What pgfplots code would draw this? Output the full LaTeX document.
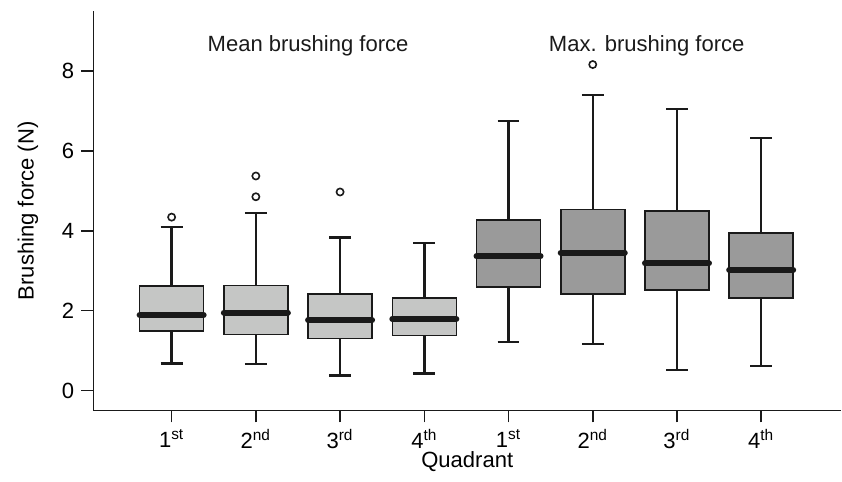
\documentclass[border=0pt]{standalone}
\usepackage{fontspec}
\setmainfont{Liberation Sans}
\usepackage{pgfplots}
\pgfplotsset{compat=1.18}
\usepgfplotslibrary{statistics}
\definecolor{meangray}{RGB}{197,198,197}
\definecolor{maxgray}{RGB}{154,154,154}
\definecolor{ink}{RGB}{26,26,26}

\pgfplotsset{
  bx/.style={draw=ink, line width=0.8pt, mark=o, mark size=1.8pt,
    mark options={line width=0.8pt, draw=ink, fill=none}},
  meanbox/.style={bx, fill=meangray},
  maxbox/.style={bx, fill=maxgray},
}

\begin{document}
\begin{tikzpicture}[font=\fontsize{11}{13}\selectfont]
\begin{axis}[
  name=ax,
  scale only axis, width=373.5pt, height=199.5pt,
  xmin=0.07, xmax=8.95, ymin=-0.5, ymax=9.5,
  axis x line=bottom, axis y line=left,
  axis line style={-, line width=0.8pt, draw=ink},
  tick align=outside, major tick length=6pt,
  tick style={line width=0.8pt, draw=ink},
  xtick={1,...,8},
  xticklabels={1\textsuperscript{st}, 2\textsuperscript{nd}, 3\textsuperscript{rd}, 4\textsuperscript{th},
               1\textsuperscript{st}, 2\textsuperscript{nd}, 3\textsuperscript{rd}, 4\textsuperscript{th}},
  ytick={0,2,4,6,8},
  /pgf/number format/assume math mode=true,
  xlabel={Quadrant}, ylabel={Brushing force (N)},
  xlabel style={yshift=5.5pt},
  ylabel shift=5pt,
  boxplot/draw direction=y,
  boxplot/box extend=0.76,
  boxplot/whisker extend=0.26,
  boxplot/every median/.style={line width=3pt, draw=ink, line cap=round},
  boxplot/every whisker/.style={line width=1.2pt, draw=ink},
  clip=false,
]
% mean brushing force, quadrants 1-4
\addplot[meanbox, boxplot prepared={draw position=1, median=1.89,
  lower quartile=1.49, upper quartile=2.61, lower whisker=0.68, upper whisker=4.09}]
  coordinates {(0,4.34)};
\addplot[meanbox, boxplot prepared={draw position=2, median=1.95,
  lower quartile=1.40, upper quartile=2.63, lower whisker=0.66, upper whisker=4.44}]
  coordinates {(0,4.85) (0,5.37)};
\addplot[meanbox, boxplot prepared={draw position=3, median=1.76,
  lower quartile=1.30, upper quartile=2.41, lower whisker=0.38, upper whisker=3.83}]
  coordinates {(0,4.97)};
\addplot[meanbox, boxplot prepared={draw position=4, median=1.79,
  lower quartile=1.38, upper quartile=2.32, lower whisker=0.43, upper whisker=3.69}]
  coordinates {};
% max brushing force, quadrants 1-4
\addplot[maxbox, boxplot prepared={draw position=5, median=3.36,
  lower quartile=2.59, upper quartile=4.27, lower whisker=1.22, upper whisker=6.74}]
  coordinates {};
\addplot[maxbox, boxplot prepared={draw position=6, median=3.45,
  lower quartile=2.41, upper quartile=4.53, lower whisker=1.16, upper whisker=7.40}]
  coordinates {(0,8.16)};
\addplot[maxbox, boxplot prepared={draw position=7, median=3.18,
  lower quartile=2.51, upper quartile=4.49, lower whisker=0.51, upper whisker=7.04}]
  coordinates {};
\addplot[maxbox, boxplot prepared={draw position=8, median=3.02,
  lower quartile=2.31, upper quartile=3.95, lower whisker=0.62, upper whisker=6.32}]
  coordinates {};

\node[text=ink] at (axis cs:2.62,8.62) {Mean brushing force};
\node[text=ink] at (axis cs:6.64,8.64) {Max. brushing force};
\end{axis}
\path (ax.north west) ++(0,5.5pt);
\path (ax.outer south west) ++(-5.5pt,-1.5pt);
\end{tikzpicture}
\end{document}
